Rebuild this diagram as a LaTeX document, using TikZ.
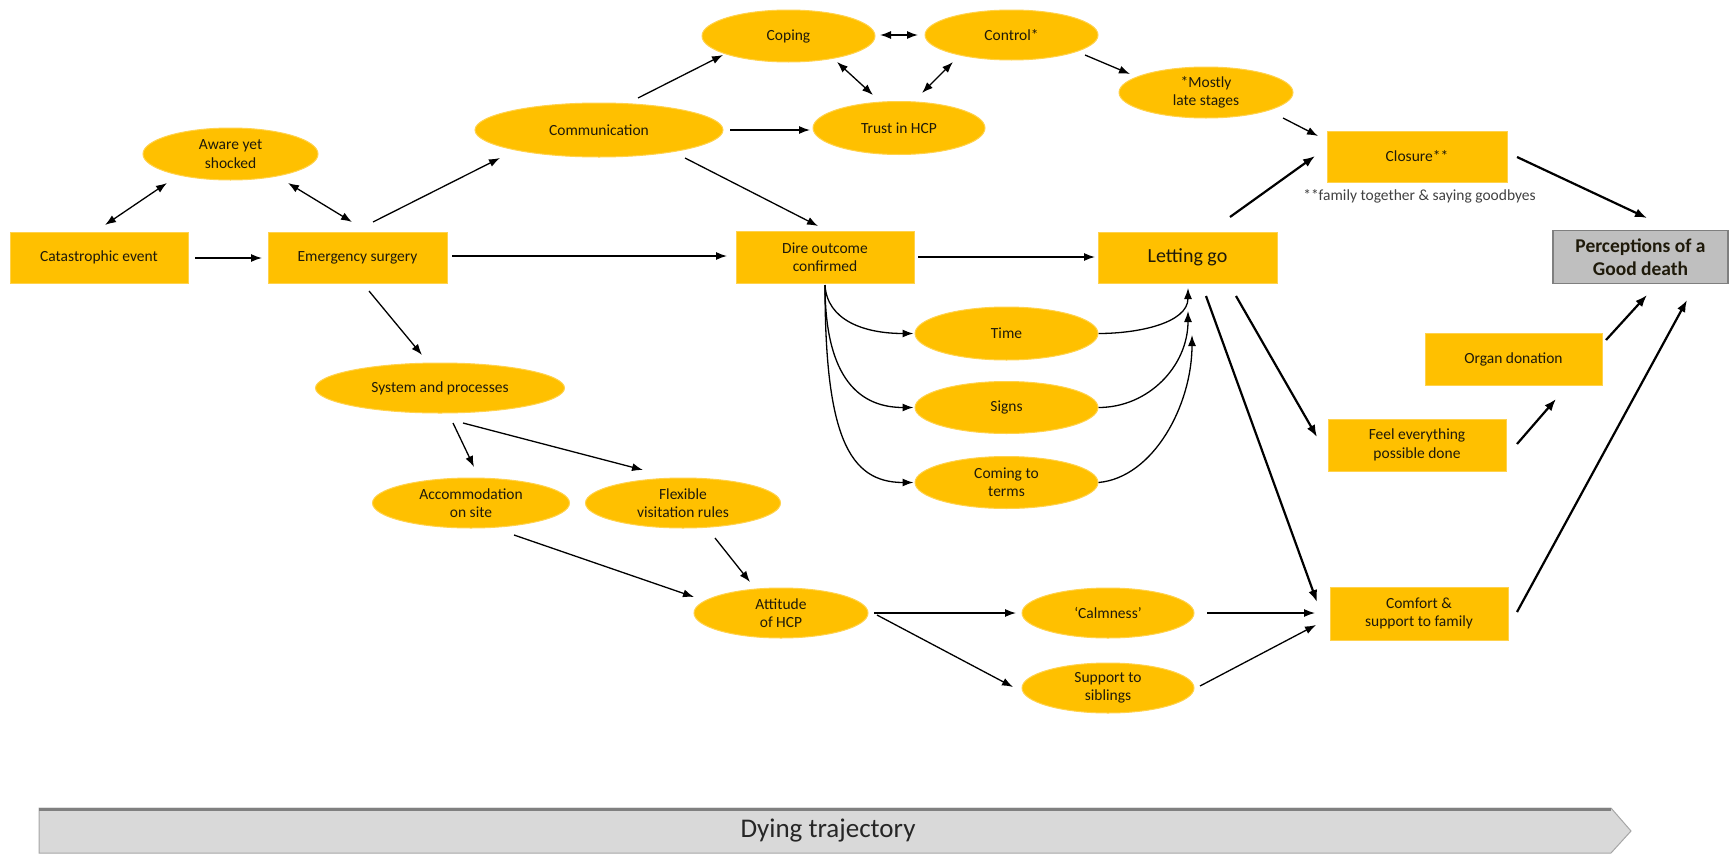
\documentclass[tikz,border=0pt]{standalone}
\usepackage{fontspec}
\setmainfont{Carlito}
\usetikzlibrary{shapes.geometric,arrows.meta}
\definecolor{gold}{HTML}{FFC000}
\definecolor{goldedge}{HTML}{FFD24D}
\definecolor{txt}{HTML}{1F1A0A}
\definecolor{percfill}{HTML}{BFBFBF}
\definecolor{percdraw}{HTML}{7F7F7F}
\definecolor{trajfill}{HTML}{D9D9D9}
\definecolor{trajedge}{HTML}{A6A6A6}
\definecolor{trajtop}{HTML}{808080}
\begin{document}
\begin{tikzpicture}[x=1pt,y=-1pt,
  lbl/.style={font=\fontsize{15.5}{18.3}\selectfont, text=txt, align=center, inner sep=0pt},
  ell/.style={lbl, ellipse, fill=gold, draw=goldedge, line width=1pt},
  box/.style={lbl, rectangle, fill=gold, draw=goldedge, line width=1pt},
  conn/.style={line width=1.3pt, -{Latex[length=11pt,width=8pt]}},
  connboth/.style={line width=1.3pt, {Latex[length=11pt,width=8pt]}-{Latex[length=11pt,width=8pt]}},
  connthick/.style={line width=2.2pt, -{Latex[length=12pt,width=9pt]}},
]
\useasboundingbox (0,0) rectangle (1730,854);

% rectangles
\node[box, minimum width=178pt, minimum height=51pt] (cat) at (99,257.5) {Catastrophic event};
\node[box, minimum width=179pt, minimum height=51pt] (emerg) at (357.5,257.5) {Emergency surgery};
\node[box, minimum width=178pt, minimum height=52pt] (dire) at (825,257) {Dire outcome\\confirmed};
\node[box, minimum width=179pt, minimum height=51pt, font=\fontsize{20}{24}\selectfont] (letting) at (1187.5,257.5) {Letting go};
\node[box, minimum width=180pt, minimum height=51pt] (closure) at (1417,156.5) {Closure**};
\node[lbl, text=black!75] (foot) at (1419.5,196) {**family together \& saying goodbyes};
\node[box, minimum width=178pt, minimum height=52pt] (feel) at (1417,445) {Feel everything\\possible done};
\node[box, minimum width=177pt, minimum height=52pt] (organ) at (1513.5,359) {Organ donation};
\node[box, minimum width=178pt, minimum height=53pt] (comfort) at (1419,613.5) {Comfort \&\\support to family};
\node[lbl, rectangle, fill=percfill, draw=percdraw, line width=1.5pt,
      font=\fontsize{19.5}{23}\selectfont\bfseries, minimum width=175pt, minimum height=53pt]
      (perc) at (1640.5,257) {Perceptions of a\\Good death};

% ellipses
\node[ell, minimum width=175pt, minimum height=52pt] (aware) at (230.5,154) {Aware yet\\shocked};
\node[ell, minimum width=248pt, minimum height=54pt] (comm) at (599,130) {Communication};
\node[ell, minimum width=173pt, minimum height=52pt] (coping) at (788.5,36) {Coping};
\node[ell, minimum width=173pt, minimum height=50pt] (control) at (1011.5,35) {Control*};
\node[ell, minimum width=172pt, minimum height=53pt] (trust) at (899,128) {Trust in HCP};
\node[ell, minimum width=174pt, minimum height=51pt] (mostly) at (1206,92.5) {*Mostly\\late stages};
\node[ell, minimum width=183pt, minimum height=53pt] (time) at (1006.5,333.5) {Time};
\node[ell, minimum width=183pt, minimum height=52pt] (signs) at (1006.5,407.5) {Signs};
\node[ell, minimum width=183pt, minimum height=52pt] (coming) at (1006.5,482.5) {Coming to\\terms};
\node[ell, minimum width=249pt, minimum height=50pt] (system) at (440,388) {System and processes};
\node[ell, minimum width=197pt, minimum height=50pt] (accom) at (471,503) {Accommodation\\on site};
\node[ell, minimum width=195pt, minimum height=50pt] (flex) at (683,503) {Flexible\\visitation rules};
\node[ell, minimum width=174pt, minimum height=50pt] (attitude) at (781,613) {Attitude\\of HCP};
\node[ell, minimum width=172pt, minimum height=50pt] (calm) at (1108,613) {‘Calmness’};
\node[ell, minimum width=172pt, minimum height=50pt] (support) at (1108,688) {Support to\\siblings};

% connectors
\draw[conn] ([shift={(96,0.5)}]cat.center) -- ([shift={(-95.5,0.5)}]emerg.center);
\draw[connboth] ([shift={(6,-32.5)}]cat.center) -- ([shift={(-63.5,29)}]aware.center);
\draw[connboth] ([shift={(57.5,29)}]aware.center) -- ([shift={(-5.5,-35.5)}]emerg.center);
\draw[conn] ([shift={(15.5,-35.5)}]emerg.center) -- ([shift={(-99,28)}]comm.center);
\draw[conn] ([shift={(94.5,-1.5)}]emerg.center) -- ([shift={(-98,-1)}]dire.center);
\draw[conn] ([shift={(11.5,33.5)}]emerg.center) -- ([shift={(-18,-33)}]system.center);
\draw[conn] ([shift={(39,-32)}]comm.center) -- ([shift={(-65.5,19)}]coping.center);
\draw[conn] ([shift={(131,0)}]comm.center) -- ([shift={(-89,2)}]trust.center);
\draw[conn] ([shift={(86,28)}]comm.center) -- ([shift={(-7,-31)}]dire.center);
\draw[connboth] ([shift={(91.5,-1)}]coping.center) -- ([shift={(-93.5,0)}]control.center);
\draw[connboth] ([shift={(48.5,26)}]coping.center) -- ([shift={(-26,-33)}]trust.center);
\draw[connboth] ([shift={(-58.5,27)}]control.center) -- ([shift={(23,-35)}]trust.center);
\draw[conn] ([shift={(73.5,20)}]control.center) -- ([shift={(-76,-18.5)}]mostly.center);
\draw[conn] ([shift={(77,25.5)}]mostly.center) -- ([shift={(-99,-20.5)}]closure.center);
\draw[connthick] ([shift={(42.5,-40.5)}]letting.center) -- ([shift={(-102,-0.5)}]closure.center);
\draw[connthick] ([shift={(100,0.5)}]closure.center) -- ([shift={(6.5,-39)}]perc.center);
\draw[conn] ([shift={(93,0)}]dire.center) -- ([shift={(-92.5,-0.5)}]letting.center);

% curved connectors around Time / Signs / Coming to terms
\draw[conn] ([shift={(0,28)}]dire.center) .. controls +(2,35) and +(-50,0) .. ([xshift=-1pt]time.west);
\draw[conn] ([shift={(0,28)}]dire.center) .. controls +(0,85) and +(-60,0) .. ([xshift=-1pt]signs.west);
\draw[conn] ([shift={(0,28)}]dire.center) .. controls +(0,150) and +(-65,0) .. ([xshift=-1pt]coming.west);
\draw[conn] (time.east) .. controls +(40,0) and +(0,35) .. ([shift={(0.5,30.5)}]letting.center);
\draw[conn] (signs.east) .. controls +(50,0) and +(0,55) .. ([shift={(0.5,53.5)}]letting.center);
\draw[conn] (coming.east) .. controls +(55,-5) and +(0,70) .. ([shift={(4.5,77.5)}]letting.center);

\draw[connthick] ([shift={(18.5,38.5)}]letting.center) -- ([shift={(-102,-11.5)}]comfort.center);
\draw[connthick] ([shift={(48.5,38.5)}]letting.center) -- ([shift={(-100,-8)}]feel.center);
\draw[connthick] ([shift={(100,-1)}]feel.center) -- ([shift={(42.5,40)}]organ.center);
\draw[connthick] ([shift={(92.5,-19)}]organ.center) -- ([shift={(6.5,38)}]perc.center);
\draw[connthick] ([shift={(98,-1.5)}]comfort.center) -- ([shift={(46.5,43)}]perc.center);

\draw[conn] ([shift={(13,35)}]system.center) -- ([shift={(3,-36)}]accom.center);
\draw[conn] ([shift={(23,35)}]system.center) -- ([shift={(-40,-33)}]flex.center);
\draw[conn] ([shift={(43,32)}]accom.center) -- ([shift={(-87,-16)}]attitude.center);
\draw[conn] ([shift={(32,35)}]flex.center) -- ([shift={(-31,-31)}]attitude.center);
\draw[conn] ([shift={(93,0)}]attitude.center) -- ([shift={(-92,0)}]calm.center);
\draw[conn] ([shift={(96,2)}]attitude.center) -- ([shift={(-95,-1)}]support.center);
\draw[conn] ([shift={(99,0)}]calm.center) -- ([shift={(-104,-0.5)}]comfort.center);
\draw[conn] ([shift={(92,-2)}]support.center) -- ([shift={(-103,11.5)}]comfort.center);

% dying trajectory arrow
\filldraw[fill=trajfill, draw=trajedge, line width=1pt]
  (39,808) -- (1611,808) -- (1631,831) -- (1611,853) -- (39,853) -- cycle;
\draw[trajtop, line width=3pt] (39,809) -- (1611,809);
\node[font=\fontsize{27}{30}\selectfont, text=black!85] (traj) at (828,831) {Dying trajectory};
\end{tikzpicture}
\end{document}
